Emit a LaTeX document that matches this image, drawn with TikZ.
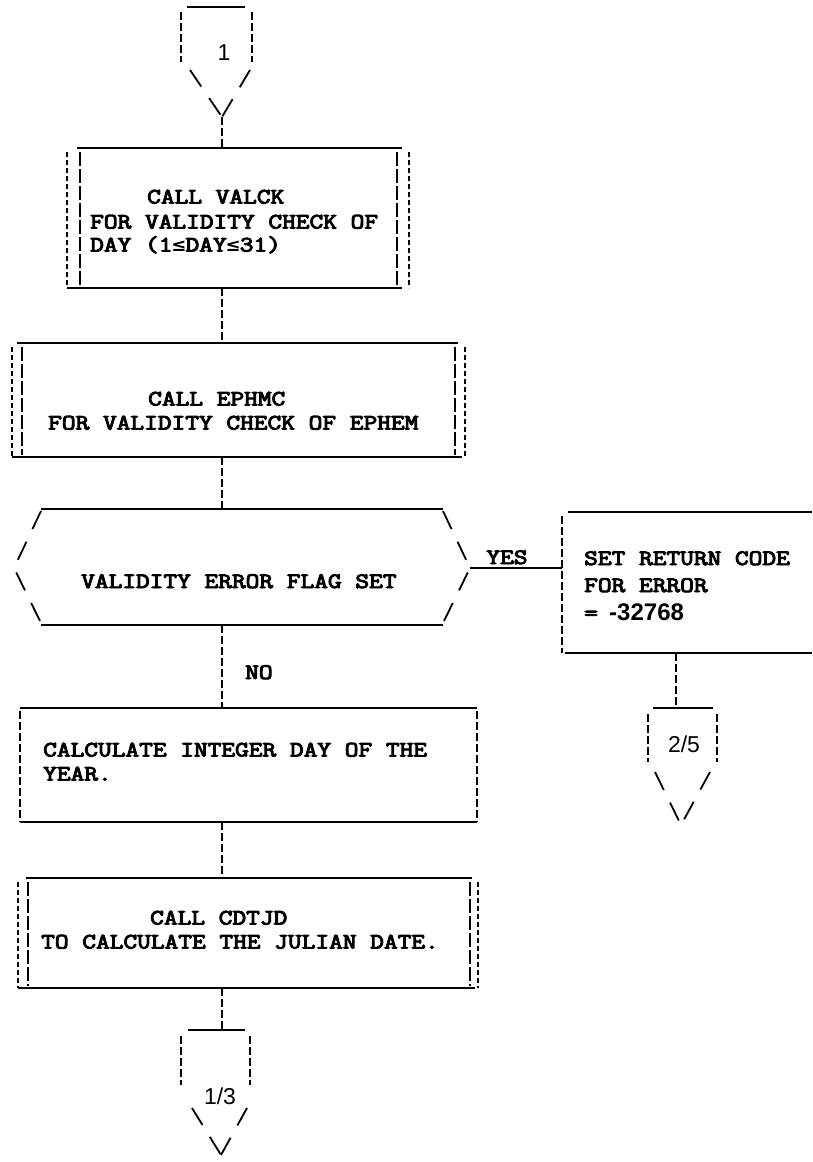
\documentclass[tikz,border=0pt]{standalone}
\usepackage{fontspec}
\setmonofont{Latin Modern Mono}[AutoFakeBold=4]
\newfontfamily\numfont{Liberation Sans}
\newfontfamily\symfont{DejaVu Sans Mono}
\newcommand{\lesseq}{{\symfont\fontsize{18}{20}\selectfont\bfseries ≤}}
\newcommand{\tw}[1]{\scalebox{1.21}[1]{#1}}
\begin{document}
\begin{tikzpicture}[x=1pt,y=-1pt,
 hline/.style={line width=2pt},
 vline/.style={line width=1.5pt, dash pattern=on 8pt off 3pt},
 thickside/.style={line width=2.6pt, dash pattern=on 14pt off 3pt},
 thinside/.style={line width=1.1pt, dash pattern=on 5pt off 3pt},
 slash/.style={line width=1.8pt, dash pattern=on 20pt off 14pt},
 txt/.style={font=\fontsize{22}{24}\selectfont\ttfamily\bfseries, anchor=base west, inner sep=0pt},
 num/.style={font=\fontsize{23}{25}\selectfont\numfont, anchor=base, inner sep=0pt},
 area/.style={draw=none, inner sep=0pt}]
\useasboundingbox[fill=white] (0,0) rectangle (812,1162);

% ---------- top off-page connector "1"
\node[area, minimum width=71, minimum height=110] (c1) at (216.5,62) {};
\coordinate (c1tip) at (222,117);
\draw[hline] (187,7) -- (245,7);
\draw[vline] (181,12) -- (181,62);
\draw[vline] (252,12) -- (252,62);
\draw[slash] (190,70) -- (c1tip);
\draw[slash] (250,70) -- (c1tip);
\node[num] (c1lab) at (224,60) {1};

% ---------- box 1 : CALL VALCK
\node[area, minimum width=342, minimum height=140] (b1) at (238,218) {};
\draw[hline] (77,148) -- (402,148);
\draw[hline] (67,288) -- (402,288);
\draw[thinside] (67,152) -- (67,288);
\draw[thickside] (80,152) -- (80,286);
\draw[thickside] (397,152) -- (397,286);
\draw[thinside] (409,152) -- (409,288);
\node[txt] (b1a) at (147,203.5) {\tw{CALL VALCK}};
\node[txt] (b1b) at (90,228.5) {\tw{FOR VALIDITY CHECK OF}};
\node[txt] (b1c) at (90,251.5) {\tw{DAY (1\lesseq DAY\lesseq 31)}};

% ---------- box 2 : CALL EPHMC
\node[area, minimum width=453, minimum height=114] (b2) at (238.5,400) {};
\draw[hline] (17,343) -- (458,343);
\draw[hline] (12,457) -- (462,457);
\draw[thinside] (12,347) -- (12,457);
\draw[thickside] (22,347) -- (22,455);
\draw[thickside] (455,347) -- (455,455);
\draw[thinside] (465,347) -- (465,457);
\node[txt] (b2a) at (148,405.5) {\tw{CALL EPHMC}};
\node[txt] (b2b) at (48,429.5) {\tw{FOR VALIDITY CHECK OF EPHEM}};

% ---------- decision hexagon
\node[area, minimum width=456, minimum height=116] (hx) at (242,567) {};
\coordinate (hxr) at (470,568);
\coordinate (hxl) at (14,568);
\draw[hline] (41,509) -- (443,509);
\draw[hline] (41,625) -- (443,625);
\draw[slash] (41,511) -- (hxl) -- (41,623);
\draw[slash] (443,511) -- (hxr) -- (443,623);
\node[txt] (hxa) at (81,588) {\tw{VALIDITY ERROR FLAG SET}};

% ---------- error box
\node[area, minimum width=250, minimum height=141] (eb) at (687,582.5) {};
\draw[hline] (568,512) -- (812,512);
\draw[hline] (565,653) -- (812,653);
\draw[vline] (562,516) -- (562,653);
\node[txt] (eba) at (584,565) {\tw{SET RETURN CODE}};
\node[txt] (ebb) at (584,592) {\tw{FOR ERROR}};
\node[txt] (ebc) at (584,620) {\tw{=} {\numfont\fontsize{24}{26}\selectfont\bfseries -32768}};

% YES branch
\draw[hline] (hxr) -- (hxr -| eb.west);
\node[txt, anchor=base] (yes) at (507,564) {\tw{YES}};

% ---------- connector 2/5
\node[area, minimum width=69, minimum height=117] (c2) at (682.5,766.5) {};
\coordinate (c2tip) at (681,825);
\draw[hline] (653,708) -- (713,708);
\draw[vline] (648,714) -- (648,762);
\draw[vline] (717,714) -- (717,762);
\draw[slash] (655,772) -- (c2tip);
\draw[slash] (710,772) -- (c2tip);
\node[num] (c2lab) at (684,752) {2/5};
\draw[vline] (eb.south -| 676,0) -- (676,708);

% ---------- box 3 : integer day
\node[area, minimum width=457, minimum height=114] (b3) at (248.5,765) {};
\draw[hline] (20,708) -- (477,708);
\draw[hline] (20,822) -- (477,822);
\draw[vline] (20,711) -- (20,822);
\draw[vline] (477,711) -- (477,822);
\node[txt] (b3a) at (43,756.5) {\tw{CALCULATE INTEGER DAY OF THE}};
\node[txt] (b3b) at (43,780.5) {\tw{YEAR.}};

% ---------- box 4 : CALL CDTJD
\node[area, minimum width=460, minimum height=110] (b4) at (248,933) {};
\draw[hline] (26,878) -- (472,878);
\draw[hline] (18,988) -- (475,988);
\draw[thinside] (18,882) -- (18,988);
\draw[thickside] (28,882) -- (28,986);
\draw[thickside] (470,882) -- (470,986);
\draw[thinside] (478,882) -- (478,988);
\node[txt] (b4a) at (150,924.5) {\tw{CALL CDTJD}};
\node[txt] (b4b) at (41,948.5) {\tw{TO CALCULATE THE JULIAN DATE.}};

% ---------- connector 1/3
\node[area, minimum width=69, minimum height=125] (c3) at (215.5,1092.5) {};
\coordinate (c3tip) at (221,1155);
\draw[hline] (188,1030) -- (245,1030);
\draw[vline] (181,1036) -- (181,1085);
\draw[vline] (250,1036) -- (250,1085);
\draw[slash] (192,1108) -- (c3tip);
\draw[slash] (247,1108) -- (c3tip);
\node[num] (c3lab) at (220,1104) {1/3};

% ---------- main flow connectors
\draw[vline] (c1tip) -- (c1tip |- b1.north);
\draw[vline] (b1.south -| c1tip) -- (b2.north -| c1tip);
\draw[vline] (b2.south -| c1tip) -- (hx.north -| c1tip);
\draw[vline] (hx.south -| c1tip) -- (b3.north -| c1tip);
\node[txt] (no) at (245,679) {\tw{NO}};
\draw[vline] (b3.south -| c1tip) -- (b4.north -| c1tip);
\draw[vline] (b4.south -| c1tip) -- (c1tip |- 0,1030);
\end{tikzpicture}
\end{document}
